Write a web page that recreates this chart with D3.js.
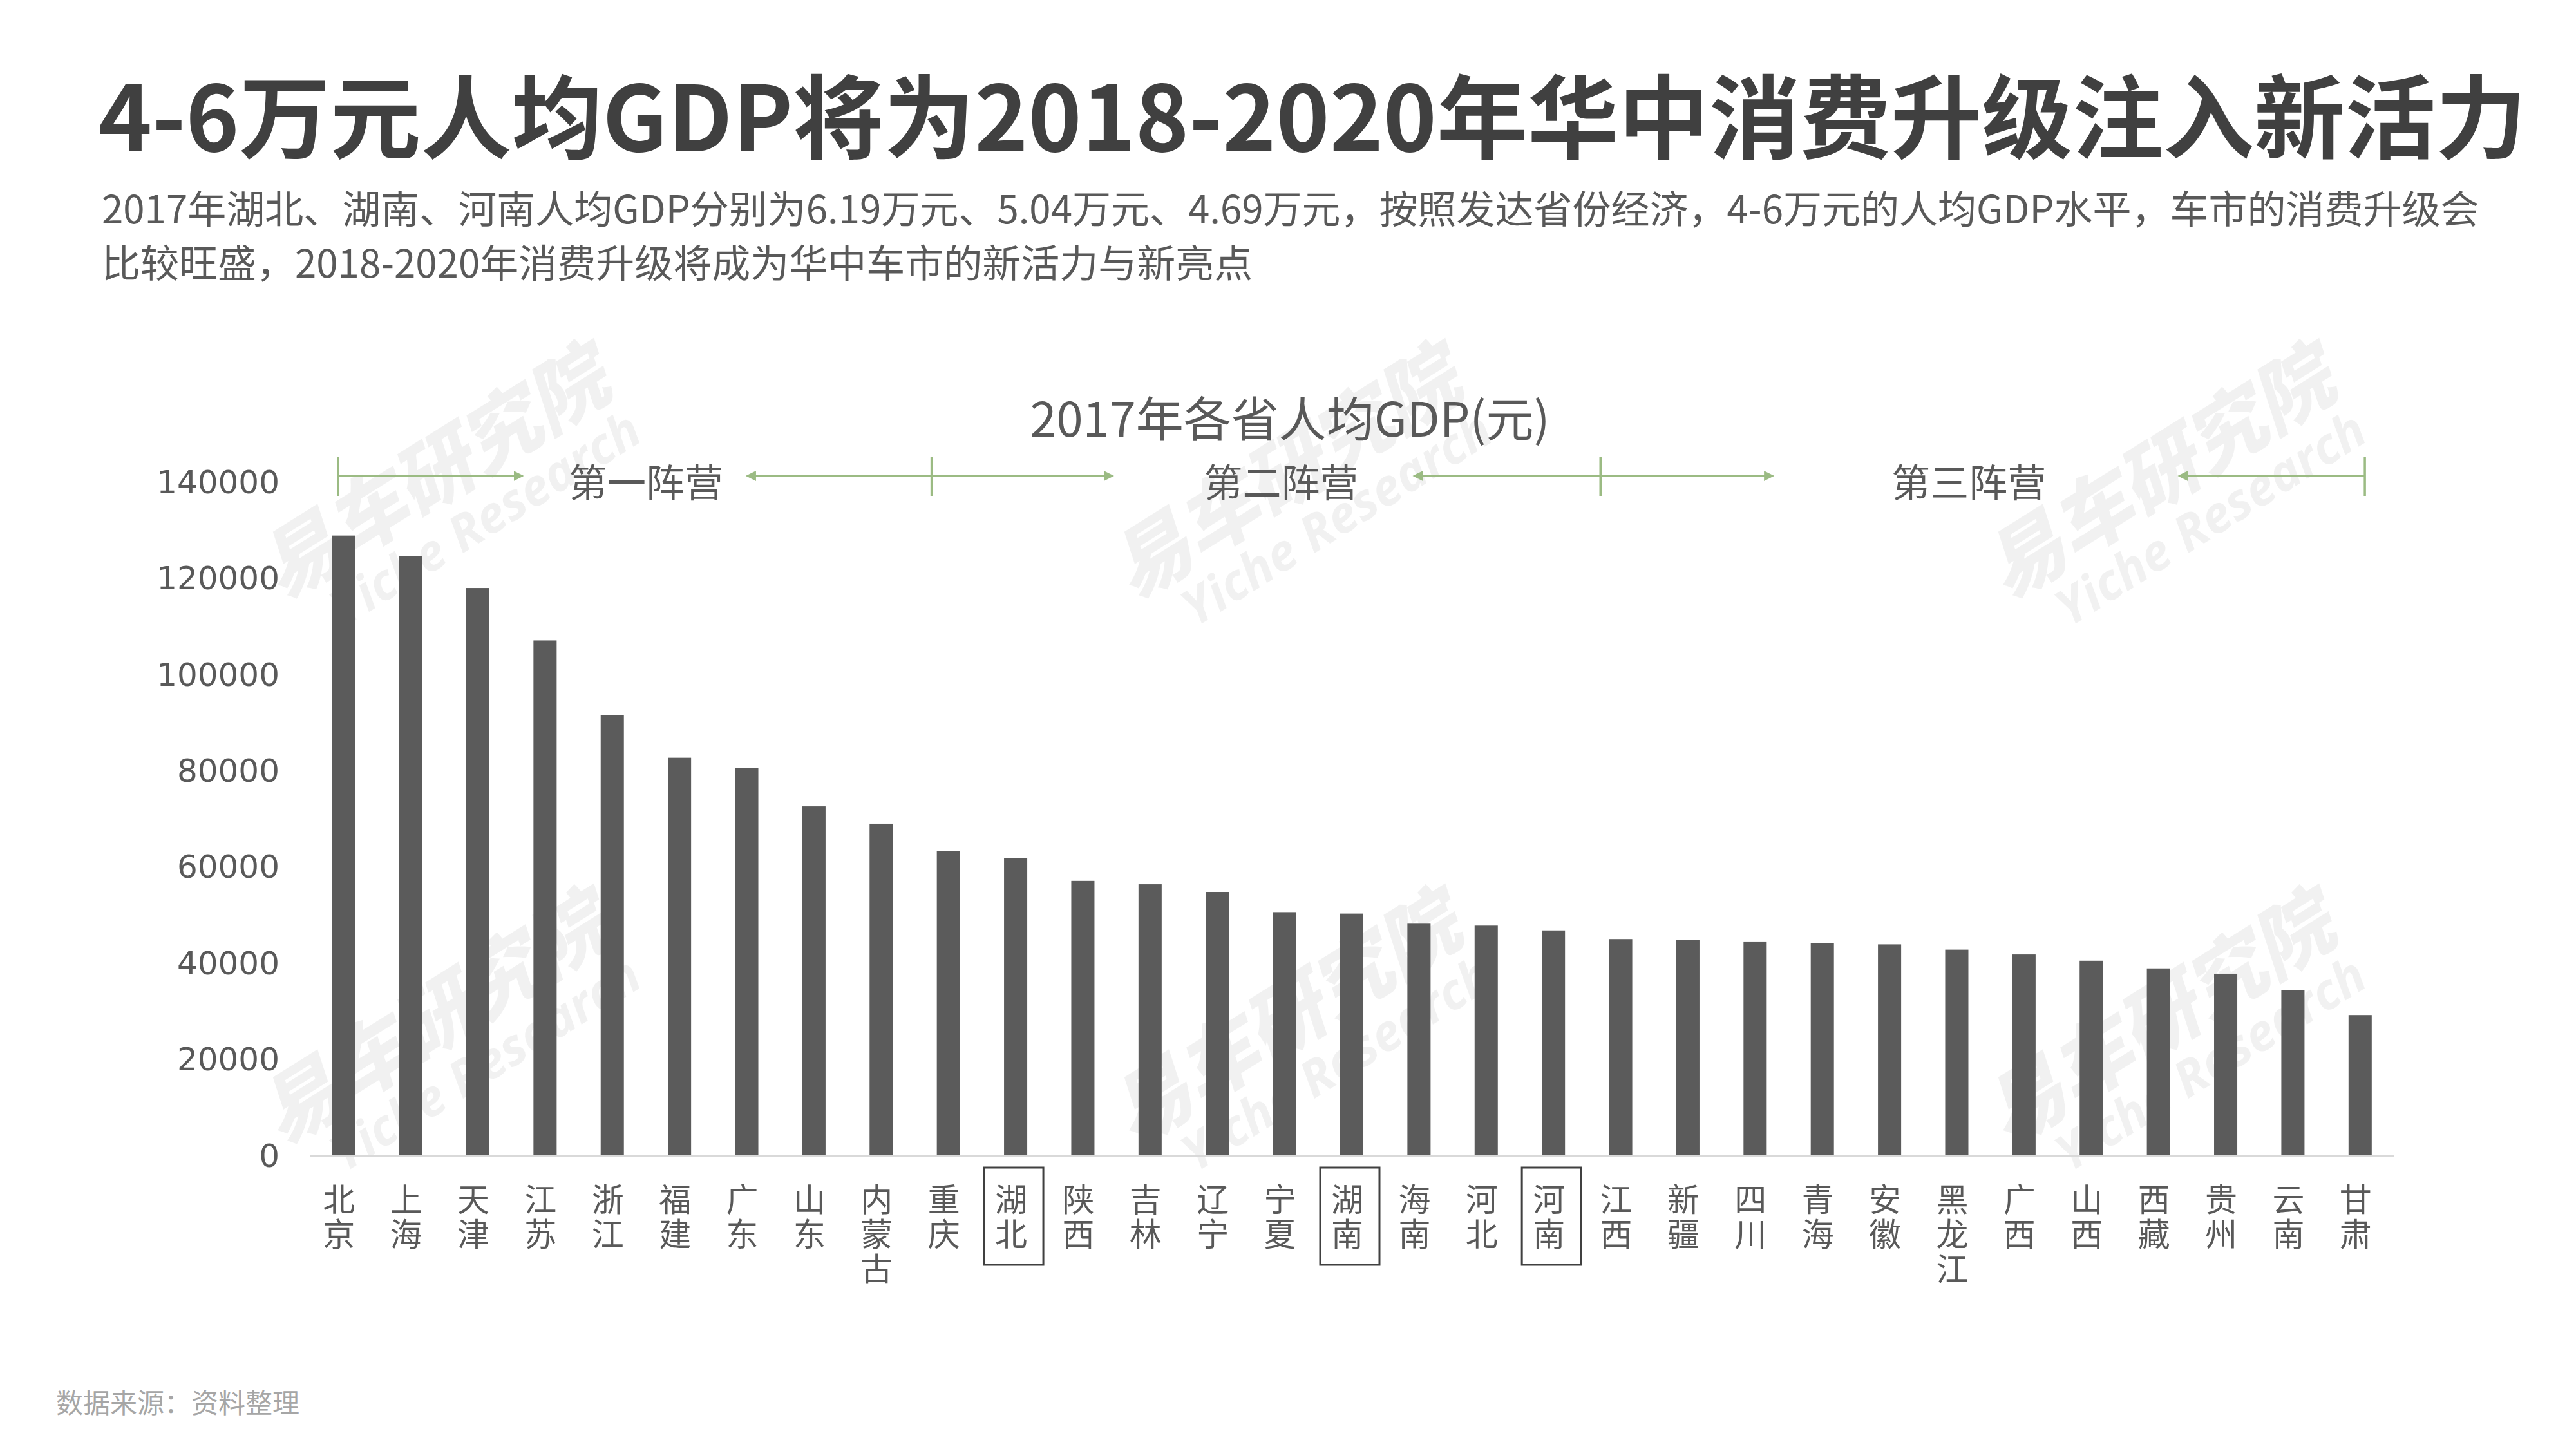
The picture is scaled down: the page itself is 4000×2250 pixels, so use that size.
<!DOCTYPE html>
<html>
<head>
<meta charset="utf-8">
<script src="https://cdn.jsdelivr.net/npm/d3@7"></script>
<style>
  html, body { margin: 0; padding: 0; background: #ffffff; }
  svg { display: block; }
</style>
</head>
<body>
<svg id="chart" width="4000" height="2250"></svg>
<script>
// ---------------- DATA ----------------
const provinces = ["北京","上海","天津","江苏","浙江","福建","广东","山东","内蒙古","重庆",
  "湖北","陕西","吉林","辽宁","宁夏","湖南","海南","河北","河南","江西",
  "新疆","四川","青海","安徽","黑龙江","广西","山西","西藏","贵州","云南","甘肃"];
const gdpPerCapita = [129000,124800,118100,107200,91700,82800,80700,72700,69100,63400,
  61900,57200,56500,54900,50700,50400,48300,47900,46900,45100,
  44900,44600,44200,44000,42900,41900,40600,39000,37900,34500,29300];
const yTicks = [0,20000,40000,60000,80000,100000,120000,140000];
const highlighted = ["湖北","湖南","河南"];
const campNames = ["第一阵营","第二阵营","第三阵营"];

const titleText = "4-6万元人均GDP将为2018-2020年华中消费升级注入新活力";
const subtitleLines = [
  "2017年湖北、湖南、河南人均GDP分别为6.19万元、5.04万元、4.69万元，按照发达省份经济，4-6万元的人均GDP水平，车市的消费升级会",
  "比较旺盛，2018-2020年消费升级将成为华中车市的新活力与新亮点"
];
const chartTitle = "2017年各省人均GDP(元)";
const sourceText = "数据来源：资料整理";

// ---------------- LAYOUT ----------------
// camp annotation geometry in category-index units (0 = left edge of first band)
const campBounds = [0.42, 9.25, 19.2, 30.57];
const campLabelPos = [5.0, 14.45, 24.68];
const campArrowEnds = [[3.17, 6.5], [11.95, 16.42], [21.77, 27.8]];

const plot = { left: 481, right: 3717, top: 749.5, bottom: 1795 };
const CJK = "'Noto Sans CJK SC','Noto Sans',sans-serif";
const textGrey = "#595959";
const green = "#9BBB83";

const svg = d3.select("#chart");

// ---------------- WATERMARKS (behind everything) ----------------
const wmCenters = [[668,727],[1990,727],[3347,727],[668,1574],[1990,1574],[3347,1574]];
const wm = svg.append("g").attr("class","watermarks");
wmCenters.forEach(([cx,cy]) => {
  const g = wm.append("g").attr("transform", `translate(${cx},${cy}) rotate(-32)`);
  g.append("text").attr("text-anchor","middle").attr("dominant-baseline","central")
    .attr("font-family", CJK).attr("font-weight", 900).attr("font-size", 122)
    .attr("font-style","italic")
    .attr("fill","#000").attr("fill-opacity",0.055).text("易车研究院");
  g.append("text").attr("x",31).attr("y",109).attr("text-anchor","middle").attr("dominant-baseline","central")
    .attr("font-family","'Open Sans','DejaVu Sans',sans-serif").attr("font-weight",700)
    .attr("font-style","italic").attr("font-size",78)
    .attr("fill","#000").attr("fill-opacity",0.055).text("Yiche Research");
});

// ---------------- TITLES ----------------
svg.append("text").attr("x",153).attr("y",173).attr("dominant-baseline","central")
  .attr("font-family",CJK).attr("font-weight",700).attr("font-size",141)
  .attr("fill","#404040").text(titleText);

svg.selectAll("text.sub").data(subtitleLines).join("text").attr("class","sub")
  .attr("x",158).attr("y",(d,i)=>320 + i*84).attr("dominant-baseline","central")
  .attr("font-family",CJK).attr("font-size",60).attr("fill",textGrey).text(d=>d);

svg.append("text").attr("x",2003).attr("y",645).attr("text-anchor","middle").attr("dominant-baseline","central")
  .attr("font-family",CJK).attr("font-size",74).attr("fill",textGrey).text(chartTitle);

svg.append("text").attr("x",87).attr("y",2175).attr("dominant-baseline","central")
  .attr("font-family",CJK).attr("font-size",42).attr("fill","#a6a6a6").text(sourceText);

// ---------------- SCALES ----------------
const x = d3.scaleBand().domain(provinces).range([plot.left, plot.right])
  .paddingInner(0.655).paddingOuter(0.655/2);
const y = d3.scaleLinear().domain([0,140000]).range([plot.bottom, plot.top]);
const idx = d3.scaleLinear().domain([0, provinces.length]).range([plot.left, plot.right]);

// ---------------- Y AXIS ----------------
const yAxis = svg.append("g").attr("transform",`translate(${plot.left},0)`)
  .call(d3.axisLeft(y).tickValues(yTicks).tickSize(0).tickPadding(47).tickFormat(d3.format("d")));
yAxis.select(".domain").remove();
yAxis.selectAll("text").attr("font-family","'DejaVu Sans',Verdana,sans-serif")
  .attr("font-size",50).attr("fill",textGrey);

// ---------------- BARS ----------------
const data = provinces.map((p,i)=>({p, v: gdpPerCapita[i]}));
svg.append("g").selectAll("rect").data(data).join("rect")
  .attr("x", d=>x(d.p)).attr("width", x.bandwidth())
  .attr("y", d=>y(d.v)).attr("height", d=>y(0)-y(d.v))
  .attr("fill","#5b5b5b");

// baseline
svg.append("line").attr("x1",plot.left).attr("x2",plot.right)
  .attr("y1",y(0)).attr("y2",y(0)).attr("stroke","#d9d9d9").attr("stroke-width",3);

// ---------------- X LABELS (vertical, one text per province) ----------------
const xl = svg.append("g");
data.forEach(d => {
  const cx = x(d.p) + x.bandwidth()/2;
  xl.append("text")
    .attr("x", cx - 7).attr("y", 1837)
    .attr("text-anchor","start")
    .style("writing-mode","vertical-rl")
    .style("letter-spacing","4px")
    .attr("font-family",CJK).attr("font-size",50).attr("fill",textGrey)
    .text(d.p);
  if (highlighted.includes(d.p)) {
    xl.append("rect").attr("x",cx-49).attr("y",1813).attr("width",92).attr("height",151)
      .attr("fill","none").attr("stroke","#404040").attr("stroke-width",3);
  }
});

// ---------------- CAMP ANNOTATIONS ----------------
const defs = svg.append("defs");
defs.append("marker").attr("id","arrowhead").attr("viewBox","0 0 10 10")
  .attr("refX",9).attr("refY",5).attr("markerWidth",4).attr("markerHeight",4)
  .attr("markerUnits","strokeWidth").attr("orient","auto-start-reverse")
  .append("path").attr("d","M0,0 L10,5 L0,10 z").attr("fill",green);

const ann = svg.append("g");
const arrowY = 739;
campBounds.forEach(b => {
  ann.append("line").attr("x1",idx(b)).attr("x2",idx(b)).attr("y1",709).attr("y2",770)
    .attr("stroke",green).attr("stroke-width",3.5);
});
campNames.forEach((name,i)=>{
  const [a0,a1] = campArrowEnds[i];
  ann.append("line").attr("x1",idx(campBounds[i])).attr("x2",idx(a0))
    .attr("y1",arrowY).attr("y2",arrowY).attr("stroke",green).attr("stroke-width",4)
    .attr("marker-end","url(#arrowhead)");
  ann.append("line").attr("x1",idx(campBounds[i+1])).attr("x2",idx(a1))
    .attr("y1",arrowY).attr("y2",arrowY).attr("stroke",green).attr("stroke-width",4)
    .attr("marker-end","url(#arrowhead)");
  ann.append("text").attr("x",idx(campLabelPos[i])).attr("y",745)
    .attr("text-anchor","middle").attr("dominant-baseline","central")
    .attr("font-family",CJK).attr("font-size",60).attr("fill",textGrey).text(name);
});
</script>
</body>
</html>
